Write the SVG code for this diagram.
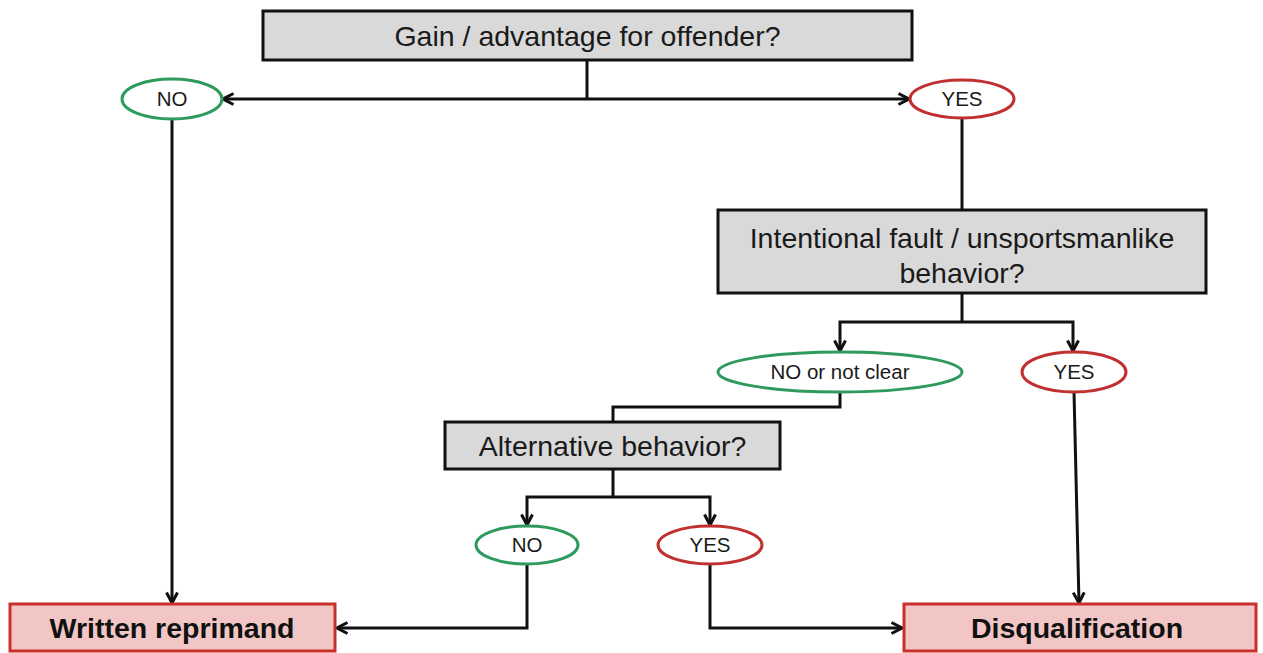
<svg xmlns="http://www.w3.org/2000/svg" width="1263" height="653" viewBox="0 0 1263 653">
<style>
.q{fill:#d9d9d9;stroke:#111;stroke-width:3}
.qt{font-family:"Liberation Sans",Arial,sans-serif;font-size:28.5px;fill:#1a1a1a;text-anchor:middle}
.no{fill:#fff;stroke:#2e9a5c;stroke-width:3}
.yes{fill:#fff;stroke:#c0302f;stroke-width:3}
.et{font-family:"Liberation Sans",Arial,sans-serif;font-size:20.5px;fill:#1a1a1a;text-anchor:middle}
.r{fill:#f2c6c4;stroke:#c9302c;stroke-width:3}
.rt{font-family:"Liberation Sans",Arial,sans-serif;font-size:28.5px;font-weight:bold;fill:#111;text-anchor:middle}
.c{fill:none;stroke:#111;stroke-width:3}
.a{fill:none;stroke:#111;stroke-width:3;marker-end:url(#arr)}
</style>
<defs>
<marker id="arr" viewBox="0 0 14 14" refX="12.5" refY="7" markerWidth="14" markerHeight="14" markerUnits="userSpaceOnUse" orient="auto">
<path d="M2,1.5 L12.5,7 L2,12.5" fill="none" stroke="#111" stroke-width="3"/>
</marker>
</defs>
<rect width="1263" height="653" fill="#fff"/>
<g id="connectors">
<path class="c" d="M587,60 V99"/>
<path class="a" d="M587,99 H223"/>
<path class="a" d="M587,99 H909"/>
<path class="a" d="M172,119 V603"/>
<path class="c" d="M962,118 V210"/>
<path class="c" d="M962,293 V322"/>
<path class="a" d="M962,322 H840 V351"/>
<path class="a" d="M962,322 H1073 V351"/>
<path class="c" d="M840,392 V407 H613 V422"/>
<path class="a" d="M1074,392 L1079,603"/>
<path class="c" d="M613,469 V497"/>
<path class="a" d="M613,497 H527 V525"/>
<path class="a" d="M613,497 H710 V525"/>
<path class="a" d="M527,564 V628 H337"/>
<path class="a" d="M710,564 V628 H902"/>
</g>
<g id="q1">
<rect class="q" x="263" y="11" width="649" height="49"/>
<text class="qt" x="587.5" y="46">Gain / advantage for offender?</text>
</g>
<g id="no1">
<ellipse class="no" cx="172" cy="99" rx="50" ry="20"/>
<text class="et" x="172" y="106">NO</text>
</g>
<g id="yes1">
<ellipse class="yes" cx="962" cy="99" rx="52" ry="19"/>
<text class="et" x="962" y="106">YES</text>
</g>
<g id="q2">
<rect class="q" x="718" y="210" width="488" height="83"/>
<text class="qt" x="962" y="248">Intentional fault / unsportsmanlike</text>
<text class="qt" x="962" y="283">behavior?</text>
</g>
<g id="no2">
<ellipse class="no" cx="840" cy="372" rx="122" ry="20"/>
<text class="et" x="840" y="379">NO or not clear</text>
</g>
<g id="yes2">
<ellipse class="yes" cx="1074" cy="372" rx="52" ry="20"/>
<text class="et" x="1074" y="379">YES</text>
</g>
<g id="q3">
<rect class="q" x="445" y="422" width="335" height="47"/>
<text class="qt" x="612.5" y="456">Alternative behavior?</text>
</g>
<g id="no3">
<ellipse class="no" cx="527" cy="545" rx="51" ry="19"/>
<text class="et" x="527" y="552">NO</text>
</g>
<g id="yes3">
<ellipse class="yes" cx="710" cy="545" rx="52" ry="19"/>
<text class="et" x="710" y="552">YES</text>
</g>
<g id="reprimand">
<rect class="r" x="10" y="604" width="325" height="47"/>
<text class="rt" x="172" y="638">Written reprimand</text>
</g>
<g id="disq">
<rect class="r" x="904" y="604" width="352" height="47"/>
<text class="rt" x="1077" y="638">Disqualification</text>
</g>
</svg>
